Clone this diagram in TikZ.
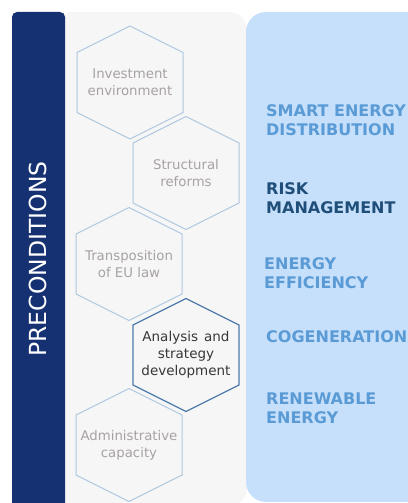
\documentclass[tikz,border=0pt]{standalone}
\usepackage{fontspec}
\setmainfont{DejaVu Sans}
\usetikzlibrary{calc}
\definecolor{navy}{RGB}{22,49,114}
\definecolor{panelgrey}{RGB}{246,246,246}
\definecolor{panelblue}{RGB}{198,224,252}
\definecolor{hexedge}{RGB}{174,199,224}
\definecolor{hexdark}{RGB}{78,122,172}
\definecolor{hextext}{RGB}{168,162,162}
\definecolor{lightitem}{RGB}{91,155,213}
\definecolor{darkitem}{RGB}{31,78,121}
\tikzset{
  hexline/.style={draw=hexedge, line width=1pt, line join=miter},
  hexfocus/.style={draw=hexdark, line width=1.2pt, line join=miter},
  hexlabel/.style={align=center, inner sep=0pt, text=hextext, font=\fontsize{13.3}{17}\selectfont},
  hexlabelfocus/.style={align=center, inner sep=0pt, text=black!78, font=\fontsize{13.5}{17}\selectfont},
  item/.style={anchor=west, align=left, inner sep=0pt, text depth=0pt, font=\bfseries\fontsize{16}{19}\selectfont},
}
\newcommand{\hexat}[1]{($(#1)+(0,56.5)$) -- ($(#1)+(53,30)$) -- ($(#1)+(53,-30)$) -- ($(#1)+(0,-56.5)$) -- ($(#1)+(-53,-30)$) -- ($(#1)+(-53,30)$) -- cycle}
\begin{document}
\begin{tikzpicture}[x=1pt,y=1pt]
\useasboundingbox (0,0) rectangle (407,503);
% panels
\fill[panelgrey, rounded corners=18pt] (55,-3) rectangle (247,491);
\fill[panelblue, rounded corners=20pt] (246,1) rectangle (440,491);
\fill[navy, rounded corners=5pt] (12,-20) rectangle (65,491);
\node[rotate=90, text=white, inner sep=0pt, font=\fontsize{23.5}{27}\selectfont] (pre) at (38,244) {PRECONDITIONS};
% hexagons
\node[hexlabel] (h1) at (130,420.5) {Investment\\environment};
\node[hexlabel] (h2) at (186,330) {Structural\\reforms};
\node[hexlabel] (h3) at (129,239) {Transposition\\of EU law};
\node[hexlabelfocus] (h4) at (186,148) {Analysis\hspace{0.45em}and\\strategy\\development};
\node[hexlabel] (h5) at (129,58) {Administrative\\capacity};
\draw[hexline] \hexat{h1};
\draw[hexline] \hexat{h2};
\draw[hexline] \hexat{h3};
\draw[hexline] \hexat{h5};
\draw[hexfocus] \hexat{h4};
% items
\node[item, text=lightitem] (i1) at (266,383) {SMART ENERGY\\DISTRIBUTION};
\node[item, text=darkitem] (i2) at (266,305) {RISK\\MANAGEMENT};
\node[item, text=lightitem] (i3) at (264,229.5) {ENERGY\\EFFICIENCY};
\node[item, text=lightitem] (i4) at (266,166) {COGENERATION};
\node[item, text=lightitem] (i5) at (266,95) {RENEWABLE\\ENERGY};
\end{tikzpicture}
\end{document}
